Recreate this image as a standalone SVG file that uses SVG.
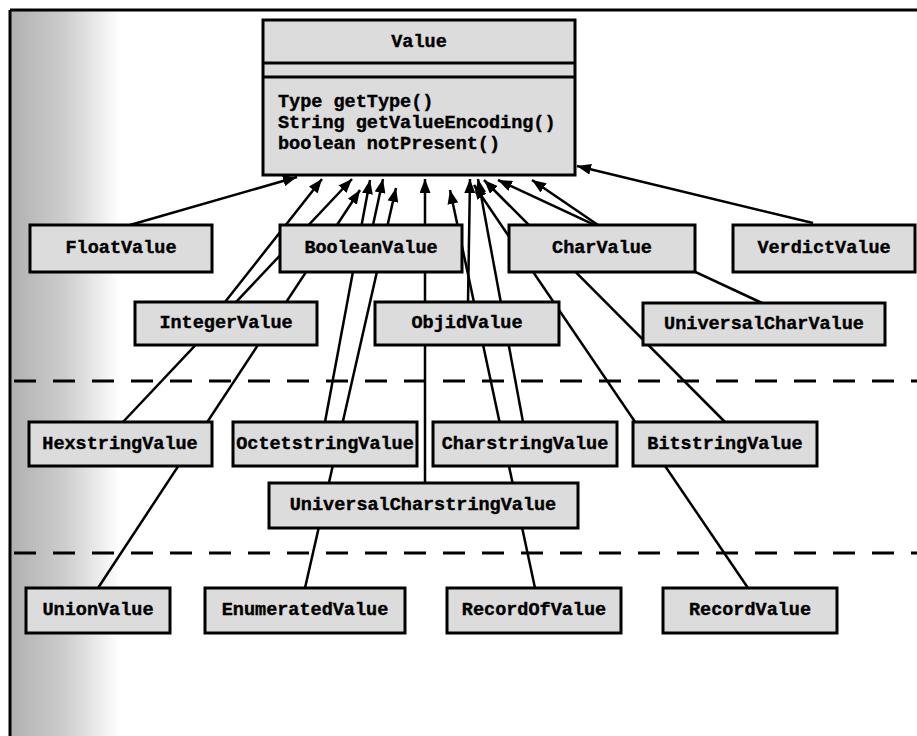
<svg xmlns="http://www.w3.org/2000/svg" width="917" height="736" viewBox="0 0 917 736">
<style>
.box{fill:#dcdcdc;stroke:#000;stroke-width:3}
.lbl{font-family:"Liberation Mono","DejaVu Sans Mono",monospace;font-weight:bold;font-size:18.5px;fill:#000;stroke:#000;stroke-width:0.4;text-anchor:middle;dominant-baseline:central}
.mth{font-family:"Liberation Mono","DejaVu Sans Mono",monospace;font-weight:bold;font-size:18.5px;fill:#000;stroke:#000;stroke-width:0.4}
.con{stroke:#000;stroke-width:2.5;fill:none;marker-end:url(#arr)}
.dash{stroke:#000;stroke-width:3;stroke-dasharray:22 17;fill:none}
</style>
<defs>
<linearGradient id="bg" x1="0" y1="0" x2="1" y2="0">
<stop offset="0" stop-color="#b0b0b0"/>
<stop offset="0.5" stop-color="#cdcdcd"/>
<stop offset="1" stop-color="#ffffff"/>
</linearGradient>
<marker id="arr" markerUnits="userSpaceOnUse" markerWidth="14" markerHeight="11" refX="14" refY="5.5" orient="auto">
<path d="M0,0 L14,5.5 L0,11 z" fill="#000"/>
</marker>
</defs>
<rect x="0" y="0" width="917" height="736" fill="#fff"/>
<rect x="10" y="10" width="110" height="726" fill="url(#bg)"/>
<g id="frame">
<line x1="10" y1="10" x2="917" y2="10" stroke="#000" stroke-width="3"/>
<line x1="10" y1="10" x2="10" y2="736" stroke="#000" stroke-width="3"/>
</g>
<g id="separators">
<line class="dash" x1="14" y1="381" x2="917" y2="381"/>
<line class="dash" x1="14" y1="553" x2="917" y2="553"/>
</g>
<g id="connectors">
<line class="con" x1="130" y1="225" x2="297" y2="177"/>
<line class="con" x1="225" y1="302" x2="322" y2="179"/>
<line class="con" x1="123" y1="422" x2="352" y2="179"/>
<line class="con" x1="98" y1="588" x2="360" y2="190"/>
<line class="con" x1="325" y1="422" x2="370" y2="180"/>
<line class="con" x1="373" y1="225" x2="383" y2="179"/>
<line class="con" x1="305" y1="588" x2="396" y2="188"/>
<line class="con" x1="425" y1="483" x2="425" y2="179"/>
<line class="con" x1="535" y1="588" x2="450" y2="190"/>
<line class="con" x1="468" y1="302" x2="470" y2="179"/>
<line class="con" x1="523" y1="422" x2="478" y2="179"/>
<line class="con" x1="748" y1="588" x2="474" y2="185"/>
<line class="con" x1="725" y1="422" x2="484" y2="180"/>
<line class="con" x1="762" y1="303" x2="498" y2="180"/>
<line class="con" x1="598" y1="225" x2="532" y2="180"/>
<line class="con" x1="813" y1="223" x2="577" y2="166"/>
</g>
<g id="Value">
<rect class="box" x="263" y="20" width="312" height="155"/>
<line x1="263" y1="63" x2="575" y2="63" stroke="#000" stroke-width="3"/>
<line x1="263" y1="77" x2="575" y2="77" stroke="#000" stroke-width="3"/>
<text class="lbl" x="419" y="42">Value</text>
<text class="mth" x="278" y="107">Type getType()</text>
<text class="mth" x="278" y="128">String getValueEncoding()</text>
<text class="mth" x="278" y="149">boolean notPresent()</text>
</g>
<g id="FloatValue"><rect class="box" x="30" y="225" width="182" height="47"/><text class="lbl" x="121" y="248">FloatValue</text></g>
<g id="BooleanValue"><rect class="box" x="280" y="225" width="182" height="47"/><text class="lbl" x="371" y="248">BooleanValue</text></g>
<g id="CharValue"><rect class="box" x="509" y="225" width="186" height="47"/><text class="lbl" x="602" y="248">CharValue</text></g>
<g id="VerdictValue"><rect class="box" x="733" y="225" width="182" height="47"/><text class="lbl" x="824" y="248">VerdictValue</text></g>
<g id="IntegerValue"><rect class="box" x="135" y="302" width="182" height="43"/><text class="lbl" x="226" y="323">IntegerValue</text></g>
<g id="ObjidValue"><rect class="box" x="375" y="302" width="184" height="43"/><text class="lbl" x="467" y="323">ObjidValue</text></g>
<g id="UniversalCharValue"><rect class="box" x="643" y="303" width="242" height="42"/><text class="lbl" x="764" y="324">UniversalCharValue</text></g>
<g id="HexstringValue"><rect class="box" x="29" y="422" width="183" height="44"/><text class="lbl" x="120" y="444">HexstringValue</text></g>
<g id="OctetstringValue"><rect class="box" x="233" y="422" width="184" height="44"/><text class="lbl" x="325" y="444">OctetstringValue</text></g>
<g id="CharstringValue"><rect class="box" x="433" y="422" width="184" height="44"/><text class="lbl" x="525" y="444">CharstringValue</text></g>
<g id="BitstringValue"><rect class="box" x="633" y="422" width="184" height="44"/><text class="lbl" x="725" y="444">BitstringValue</text></g>
<g id="UniversalCharstringValue"><rect class="box" x="269" y="483" width="309" height="45"/><text class="lbl" x="423" y="505">UniversalCharstringValue</text></g>
<g id="UnionValue"><rect class="box" x="26" y="588" width="144" height="45"/><text class="lbl" x="98" y="610">UnionValue</text></g>
<g id="EnumeratedValue"><rect class="box" x="205" y="588" width="200" height="45"/><text class="lbl" x="305" y="610">EnumeratedValue</text></g>
<g id="RecordOfValue"><rect class="box" x="447" y="588" width="174" height="45"/><text class="lbl" x="534" y="610">RecordOfValue</text></g>
<g id="RecordValue"><rect class="box" x="663" y="588" width="174" height="45"/><text class="lbl" x="750" y="610">RecordValue</text></g>
</svg>
